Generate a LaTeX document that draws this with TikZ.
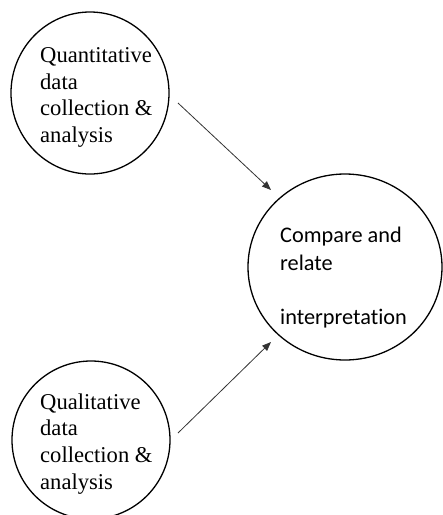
\documentclass[tikz,border=0pt]{standalone}
\usepackage{fontspec}
\setmainfont{Liberation Serif}
\newfontfamily\calibfont[Ligatures=NoCommon]{Carlito}
\usetikzlibrary{arrows.meta,shapes.geometric}
\tikzset{
  ring/.style={draw=black, line width=1.3pt, ellipse, inner sep=0pt},
  seriftext/.style={anchor=base west, align=left, inner sep=0pt, font=\fontsize{22.6pt}{26.7pt}\selectfont},
  sanstext/.style={anchor=base west, align=left, inner sep=0pt, font=\calibfont\fontsize{22.3pt}{27.4pt}\selectfont},
  link/.style={draw=black!80, line width=0.8pt, -{Triangle[length=9pt,width=7pt]}}
}
\begin{document}
\begin{tikzpicture}[x=1pt,y=-1pt]
\useasboundingbox (0,0) rectangle (443,515);
\clip (0,0) rectangle (443,515);
\node[ring, minimum width=158pt, minimum height=162pt] (quan) at (90,93) {};
\node[ring, minimum width=158pt, minimum height=158pt] (qual) at (91,440) {};
\node[ring, minimum width=194pt, minimum height=186pt] (cmp) at (345,267) {};
\node[seriftext] (quant) at (40,142.6) {Quantitative\\data\\collection \&\\analysis};
\node[seriftext] (qualt) at (40,489.1) {Qualitative\\data\\collection \&\\analysis};
\node[sanstext] (cmpt) at (280,324.9) {Compare and\\relate\\[27.4pt]interpretation};
\coordinate (s1) at (178,103);
\coordinate (e1) at (271,190);
\coordinate (s2) at (178,433);
\coordinate (e2) at (271,342);
\draw[link] (s1) -- (e1);
\draw[link] (s2) -- (e2);
\end{tikzpicture}
\end{document}
